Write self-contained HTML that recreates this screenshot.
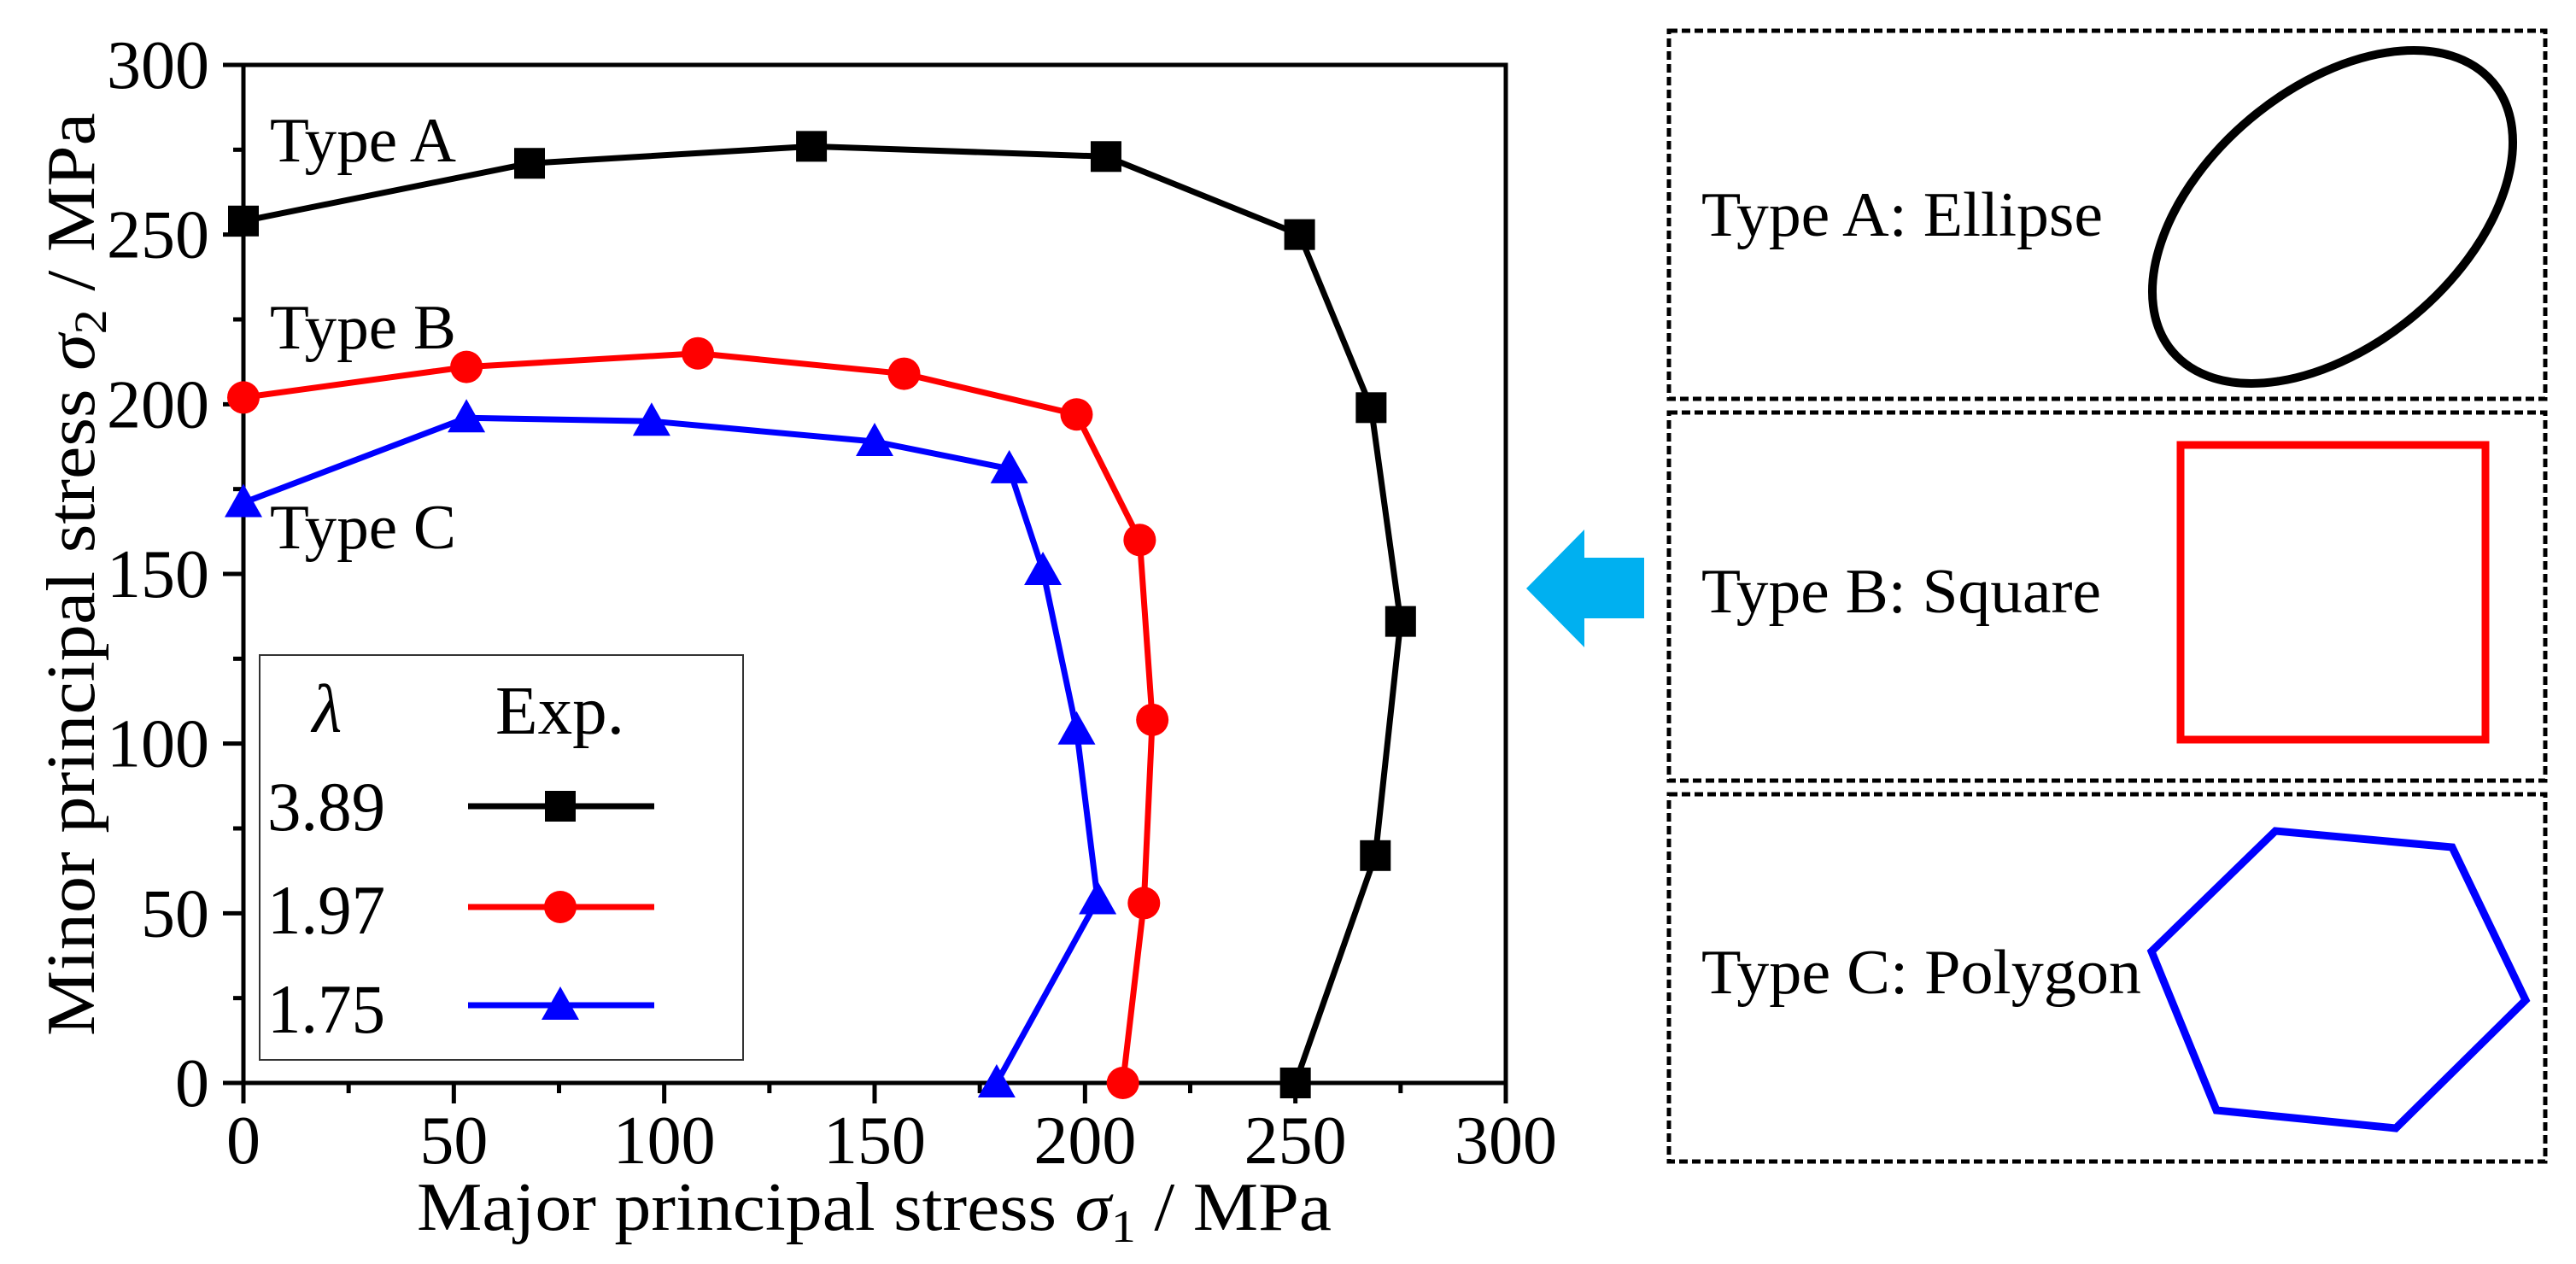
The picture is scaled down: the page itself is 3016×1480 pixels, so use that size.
<!DOCTYPE html>
<html><head><meta charset="utf-8"><style>
html,body{margin:0;padding:0;background:#fff;}
svg{display:block;font-family:"Liberation Serif",serif;}
</style></head><body>
<svg id="c" width="3016" height="1480" viewBox="0 0 3016 1480">
<g id="plot"></g>
<g>
<rect x="1954" y="36" width="1026" height="431" fill="none" stroke="#000" stroke-width="5" stroke-dasharray="10,5"/>
<rect x="1954" y="483" width="1026" height="431" fill="none" stroke="#000" stroke-width="5" stroke-dasharray="10,5"/>
<rect x="1954" y="930" width="1026" height="430" fill="none" stroke="#000" stroke-width="5" stroke-dasharray="10,5"/>
<text x="1992" y="276" font-size="74" textLength="470" lengthAdjust="spacingAndGlyphs">Type A: Ellipse</text>
<text x="1992" y="717" font-size="74" textLength="468" lengthAdjust="spacingAndGlyphs">Type B: Square</text>
<text x="1992" y="1163" font-size="74" textLength="515" lengthAdjust="spacingAndGlyphs">Type C: Polygon</text>
<ellipse cx="2731" cy="254" rx="245" ry="150" transform="rotate(-40 2731 254)" fill="none" stroke="#000" stroke-width="10"/>
<rect x="2553" y="521" width="357" height="345" fill="none" stroke="#ff0000" stroke-width="9"/>
<polygon points="2664,973 2871,992 2957,1171 2805,1321 2595,1300 2519,1114" fill="none" stroke="#0000ff" stroke-width="9"/>
<polygon points="1787,689 1855,620 1855,653 1925,653 1925,724 1855,724 1855,758" fill="#00b0f0"/>
</g>
</svg>
<script>
const xTicks=[0,50,100,150,200,250,300];
const yTicks=[0,50,100,150,200,250,300];
const blackX=[0,68,135,205,251,268,275,269,250];
const blackY=[254,271,276,273,250,199,136,67,0];
const redX=[0,53,108,157,198,213,216,214,209];
const redY=[202,211,215,209,197,160,107,53,0];
const blueX=[0,53,97,150,182,190,198,203,179];
const blueY=[171,196,195,189,181,151,104,54,0];
const legendLabels=["3.89","1.97","1.75"];

const NS="http://www.w3.org/2000/svg";
const X0=285,X1=1763,Y0=1268,Y1=76;
const sx=v=>X0+(v-0)/300*(X1-X0);
const sy=v=>Y0-(v-0)/300*(Y0-Y1);
const g=document.getElementById('plot');
function mk(tag,attrs,parent){const e=document.createElementNS(NS,tag);for(const k in attrs)e.setAttribute(k,attrs[k]);(parent||g).appendChild(e);return e;}

for(let i=0;i<xTicks.length;i++){
  const v=xTicks[i];
  const t=mk('line',{x1:sx(v),x2:sx(v),y1:Y0,y2:Y0+24,stroke:'#000','stroke-width':5});
  
  
  const l=mk('text',{x:sx(v),y:1362,'font-size':80,'text-anchor':'middle'});
  l.textContent=v;
  
  
  if(i<xTicks.length-1){
    const m=mk('line',{x1:sx(v+25),x2:sx(v+25),y1:Y0,y2:Y0+12,stroke:'#000','stroke-width':5});
    
    
  }
}
for(let i=0;i<yTicks.length;i++){
  const v=yTicks[i];
  const t=mk('line',{x1:X0-24,x2:X0,y1:sy(v),y2:sy(v),stroke:'#000','stroke-width':5});
  
  
  const l=mk('text',{x:245,y:sy(v)+27,'font-size':80,'text-anchor':'end'});
  l.textContent=v;
  
  
  if(i<yTicks.length-1){
    const m=mk('line',{x1:X0-12,x2:X0,y1:sy(v+25),y2:sy(v+25),stroke:'#000','stroke-width':5});
    
    
  }
}
const frame=mk('rect',{x:X0,y:Y1,width:X1-X0,height:Y0-Y1,fill:'none',stroke:'#000','stroke-width':5});



const xt=mk('text',{x:488,y:1440,'font-size':80,textLength:1071,lengthAdjust:'spacingAndGlyphs'});
xt.innerHTML='Major principal stress <tspan font-style="italic">σ</tspan><tspan font-size="54" dy="14">1</tspan><tspan dy="-14"> / MPa</tspan>';


const yt=mk('text',{x:0,y:0,'font-size':80,textLength:1081,lengthAdjust:'spacingAndGlyphs',transform:'translate(110,1213) rotate(-90)'});
yt.innerHTML='Minor principal stress <tspan font-style="italic">σ</tspan><tspan font-size="54" dy="14">2</tspan><tspan dy="-14"> / MPa</tspan>';



[['Type A',189,'type-a-label'],['Type B',408,'type-b-label'],['Type C',642,'type-c-label']].forEach(a=>{
  const t=mk('text',{x:316,y:a[1],'font-size':74,textLength:218,lengthAdjust:'spacingAndGlyphs'});
  t.textContent=a[0];
  
  
});

function marker(type,cx,cy,color,parent){
  let e;
  if(type==='sq') e=mk('rect',{x:cx-18,y:cy-18,width:36,height:36,fill:color},parent);
  else if(type==='ci') e=mk('circle',{cx:cx,cy:cy,r:19,fill:color},parent);
  else e=mk('polygon',{points:`${cx},${cy-22} ${cx+22},${cy+17} ${cx-22},${cy+17}`,fill:color},parent);
  return e;
}
function series(xs,ys,color,type,name){
  const sg=mk('g',{});
  
  
  const pts=xs.map((x,i)=>sx(x)+','+sy(ys[i])).join(' ');
  const pl=mk('polyline',{points:pts,fill:'none',stroke:color,'stroke-width':7,'stroke-linejoin':'round'},sg);
  
  
  xs.forEach((x,i)=>{
    const m=marker(type,sx(x),sy(ys[i]),color,sg);
    
    
  });
}
series(blackX,blackY,'#000','sq','lambda-3-89');
series(redX,redY,'#ff0000','ci','lambda-1-97');
series(blueX,blueY,'#0000ff','tr','lambda-1-75');

const lg=mk('g',{});


mk('rect',{x:304,y:767,width:566,height:474,fill:'#fff',stroke:'#333','stroke-width':2},lg);
const lam=mk('text',{x:383,y:857,'font-size':80,'font-style':'italic','text-anchor':'middle'},lg);
lam.textContent='λ';


const ex=mk('text',{x:580,y:859,'font-size':80,textLength:151,lengthAdjust:'spacingAndGlyphs'},lg);
ex.textContent='Exp.';


const rows=[[944,972,'#000','sq'],[1062,1093,'#ff0000','ci'],[1177,1209,'#0000ff','tr']];
rows.forEach((r,i)=>{
  const t=mk('text',{x:313,y:r[1],'font-size':82,textLength:138,lengthAdjust:'spacingAndGlyphs'},lg);
  t.textContent=legendLabels[i];
  
  
  const ln=mk('line',{x1:548,x2:766,y1:r[0],y2:r[0],stroke:r[2],'stroke-width':7},lg);
  
  
  const m=marker(r[3],656,r[0],r[2],lg);
  
  
});
</script>
</body></html>
